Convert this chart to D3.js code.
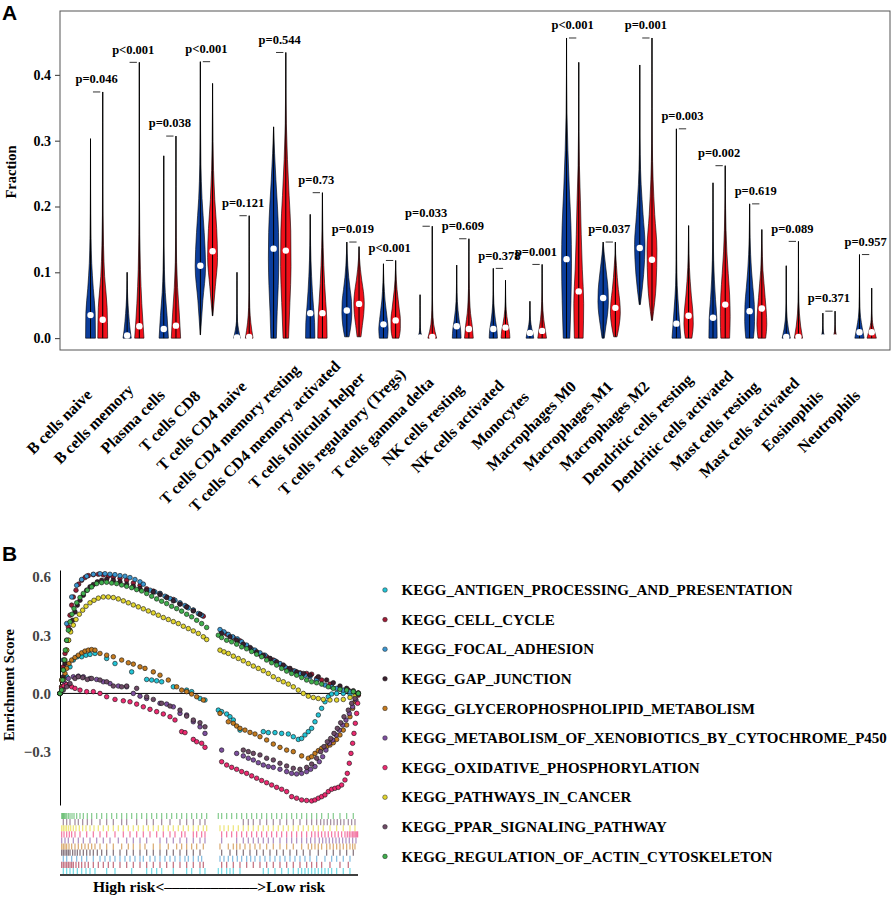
<!DOCTYPE html>
<html><head><meta charset="utf-8">
<script src="https://cdn.jsdelivr.net/npm/d3@7"></script>
<style>body{margin:0;background:#fff}svg{display:block}</style>
</head><body>
<svg id="c" width="892" height="897"></svg>
<script>
// ---------- Panel A data ----------
const categories = ["B cells naive","B cells memory","Plasma cells","T cells CD8","T cells CD4 naive",
 "T cells CD4 memory resting","T cells CD4 memory activated","T cells follicular helper",
 "T cells regulatory (Tregs)","T cells gamma delta","NK cells resting","NK cells activated","Monocytes",
 "Macrophages M0","Macrophages M1","Macrophages M2","Dendritic cells resting","Dendritic cells activated",
 "Mast cells resting","Mast cells activated","Eosinophils","Neutrophils"];
const pLabels = ["p=0.046","p<0.001","p=0.038","p<0.001","p=0.121","p=0.544","p=0.73","p=0.019","p<0.001",
 "p=0.033","p=0.609","p=0.378","p=0.001","p<0.001","p=0.037","p=0.001","p=0.003","p=0.002","p=0.619",
 "p=0.089","p=0.371","p=0.957"];
const blueMin = [0,0,0,0.005,0,0,0,0.002,0,0,0,0,0,0,0,0.051,0,0,0,0,0,0];
const blueMax = [0.303,0.100,0.277,0.420,0.100,0.321,0.188,0.146,0.113,0.066,0.111,0.106,0.056,0.456,0.146,0.415,0.318,0.236,0.204,0.110,0.038,0.127];
const blueMed = [0.035,0.004,0.014,0.110,0.001,0.136,0.038,0.042,0.021,0.001,0.018,0.014,0.008,0.120,0.061,0.137,0.022,0.031,0.041,0.002,0.001,0.009];
const redMin = [0,0,0,0.034,0,0,0,0.002,0,0,0,0,0,0,0.002,0.027,0,0,0,0,0,0];
const redMax = [0.374,0.419,0.307,0.387,0.186,0.434,0.221,0.139,0.118,0.170,0.151,0.088,0.112,0.419,0.146,0.456,0.171,0.262,0.165,0.147,0.041,0.076];
const redMed = [0.028,0.018,0.019,0.132,0.002,0.133,0.038,0.052,0.027,0.002,0.014,0.016,0.011,0.071,0.046,0.119,0.034,0.051,0.045,0.002,0.001,0.009];
// relative density at 9 evenly spaced levels from min to max
const blueDens = [
 [0.9,0.85,0.5,0.22,0.1,0.05,0.02,0.01,0],
 [0.75,0.55,0.4,0.28,0.18,0.1,0.05,0.02,0],
 [0.85,0.6,0.28,0.12,0.05,0.02,0.01,0.005,0],
 [0.02,0.45,0.95,0.7,0.3,0.1,0.04,0.015,0],
 [0.6,0.3,0.1,0.04,0.02,0.01,0.005,0.002,0],
 [0.5,0.65,0.85,0.95,0.9,0.7,0.42,0.18,0],
 [0.85,0.8,0.6,0.4,0.25,0.14,0.07,0.03,0],
 [0.4,0.75,0.9,0.85,0.6,0.35,0.18,0.07,0],
 [0.75,0.85,0.7,0.5,0.3,0.18,0.09,0.03,0],
 [0.5,0.15,0.05,0.02,0.01,0.005,0.003,0.001,0],
 [0.8,0.7,0.45,0.25,0.12,0.06,0.03,0.01,0],
 [0.75,0.65,0.4,0.22,0.1,0.05,0.02,0.01,0],
 [0.7,0.55,0.35,0.2,0.1,0.05,0.02,0.01,0],
 [0.6,0.8,0.9,0.8,0.5,0.25,0.08,0.02,0],
 [0.2,0.5,0.8,0.95,0.9,0.7,0.45,0.2,0],
 [0.1,0.7,0.95,0.6,0.25,0.08,0.03,0.01,0],
 [0.8,0.45,0.15,0.06,0.03,0.015,0.008,0.004,0],
 [0.75,0.7,0.45,0.25,0.12,0.06,0.03,0.01,0],
 [0.7,0.9,0.85,0.6,0.35,0.18,0.08,0.03,0],
 [0.75,0.4,0.18,0.08,0.04,0.02,0.01,0.005,0],
 [0.45,0.22,0.1,0.05,0.02,0.01,0.005,0.002,0],
 [0.85,0.5,0.2,0.08,0.04,0.02,0.01,0.005,0]];
const redDens = [
 [0.9,0.8,0.35,0.15,0.06,0.03,0.015,0.008,0],
 [0.85,0.45,0.2,0.08,0.03,0.015,0.008,0.004,0],
 [0.85,0.6,0.3,0.12,0.05,0.02,0.01,0.005,0],
 [0.05,0.5,0.9,0.75,0.4,0.18,0.08,0.03,0],
 [0.7,0.3,0.1,0.04,0.02,0.01,0.005,0.002,0],
 [0.5,0.75,0.95,0.9,0.6,0.3,0.1,0.03,0],
 [0.85,0.8,0.6,0.4,0.25,0.14,0.07,0.03,0],
 [0.35,0.6,0.85,0.95,0.8,0.5,0.25,0.08,0],
 [0.6,0.85,0.85,0.65,0.45,0.25,0.12,0.04,0],
 [0.8,0.25,0.08,0.03,0.015,0.008,0.004,0.002,0],
 [0.8,0.6,0.3,0.15,0.07,0.03,0.015,0.005,0],
 [0.8,0.7,0.45,0.25,0.12,0.06,0.03,0.01,0],
 [0.8,0.55,0.3,0.15,0.07,0.03,0.015,0.005,0],
 [0.8,0.9,0.65,0.45,0.3,0.12,0.04,0.01,0],
 [0.3,0.7,0.9,0.8,0.55,0.35,0.2,0.05,0],
 [0.08,0.75,0.9,0.5,0.2,0.06,0.02,0.01,0],
 [0.6,0.85,0.75,0.5,0.3,0.15,0.07,0.03,0],
 [0.8,0.9,0.8,0.55,0.3,0.15,0.07,0.02,0],
 [0.7,0.9,0.8,0.6,0.4,0.2,0.1,0.04,0],
 [0.75,0.4,0.18,0.08,0.04,0.02,0.01,0.005,0],
 [0.45,0.22,0.1,0.05,0.02,0.01,0.005,0.002,0],
 [0.85,0.55,0.25,0.1,0.05,0.025,0.01,0.005,0]];
const yTicksA = [0,0.1,0.2,0.3,0.4];

// ---------- Panel B data ----------
const geneSets = ["KEGG_ANTIGEN_PROCESSING_AND_PRESENTATION","KEGG_CELL_CYCLE","KEGG_FOCAL_ADHESION",
 "KEGG_GAP_JUNCTION","KEGG_GLYCEROPHOSPHOLIPID_METABOLISM","KEGG_METABOLISM_OF_XENOBIOTICS_BY_CYTOCHROME_P450",
 "KEGG_OXIDATIVE_PHOSPHORYLATION","KEGG_PATHWAYS_IN_CANCER","KEGG_PPAR_SIGNALING_PATHWAY",
 "KEGG_REGULATION_OF_ACTIN_CYTOSKELETON"];
const rankLength = 895;
// running enrichment score at each hit: [rank position, ES]
const esAntigen = [[0,0],[10,0.034],[20,0.086],[30,0.137],[40,0.172],[52,0.189],[65,0.189],[78,0.197],[90,0.201],[105,0.206],[140,0.180],[165,0.154],[215,0.111],[260,0.072],[275,0.069],[290,0.065],[305,0.060],[340,0.034],[380,0.017],[395,0.009],[420,-0.026],[435,-0.034],[475,-0.086],[485,-0.094],[500,-0.106],[510,-0.120],[520,-0.137],[540,-0.189],[610,-0.197],[625,-0.202],[645,-0.202],[665,-0.206],[685,-0.209],[700,-0.223],[715,-0.237],[725,-0.232],[735,-0.214],[745,-0.197],[755,-0.180],[765,-0.146],[775,-0.111],[785,-0.077],[795,-0.043],[805,-0.017],[815,-0.003],[830,0],[850,0],[870,-0.003],[895,-0.003]];
const esCellCycle = [[0,0],[5,0.069],[10,0.137],[15,0.206],[20,0.274],[25,0.343],[30,0.403],[35,0.455],[40,0.497],[48,0.532],[56,0.563],[65,0.583],[75,0.597],[85,0.607],[100,0.612],[115,0.614],[130,0.611],[145,0.604],[160,0.600],[180,0.593],[200,0.583],[220,0.569],[240,0.556],[260,0.539],[280,0.527],[300,0.515],[320,0.497],[340,0.484],[360,0.463],[380,0.446],[400,0.429],[420,0.408],[430,0.398],[485,0.317],[500,0.305],[520,0.288],[540,0.271],[560,0.244],[580,0.223],[600,0.202],[620,0.189],[640,0.172],[660,0.151],[680,0.129],[700,0.117],[720,0.106],[740,0.103],[755,0.099],[770,0.077],[785,0.069],[810,0.048],[840,0.026],[865,0.017],[895,0.003]];
const esFocal = [[0,0],[10,0.172],[20,0.360],[35,0.497],[50,0.557],[65,0.587],[80,0.604],[100,0.614],[120,0.617],[135,0.617],[150,0.614],[165,0.612],[180,0.607],[195,0.604],[210,0.597],[225,0.587],[240,0.575],[250,0.563],[270,0.532],[285,0.523],[300,0.515],[315,0.501],[330,0.489],[345,0.480],[360,0.467],[375,0.453],[385,0.441],[400,0.429],[415,0.412],[425,0.403],[480,0.329],[492,0.317],[505,0.304],[518,0.292],[532,0.281],[545,0.266],[560,0.249],[572,0.232],[585,0.223],[600,0.209],[615,0.197],[630,0.180],[645,0.168],[660,0.154],[675,0.137],[690,0.123],[705,0.115],[720,0.103],[735,0.094],[750,0.086],[770,0.069],[795,0.043],[815,0.034],[830,0.026],[850,0.017],[870,0.009],[895,0]];
const esGap = [[0,0],[5,0.034],[10,0.086],[15,0.154],[20,0.223],[25,0.274],[30,0.326],[38,0.377],[45,0.420],[52,0.455],[60,0.480],[70,0.506],[80,0.532],[90,0.549],[100,0.561],[112,0.575],[125,0.583],[140,0.588],[160,0.583],[180,0.575],[200,0.563],[220,0.552],[240,0.540],[260,0.532],[280,0.523],[300,0.509],[320,0.494],[340,0.477],[360,0.460],[380,0.446],[400,0.425],[420,0.408],[485,0.309],[510,0.292],[530,0.274],[550,0.254],[570,0.237],[590,0.214],[610,0.197],[630,0.180],[650,0.163],[670,0.146],[690,0.129],[710,0.111],[730,0.103],[750,0.094],[775,0.086],[800,0.069],[820,0.055],[840,0.038],[860,0.026],[880,0.014],[895,0]];
const esGlycero = [[0,0],[5,0.034],[10,0.069],[15,0.103],[20,0.129],[27,0.154],[35,0.172],[45,0.185],[55,0.197],[65,0.209],[75,0.218],[85,0.223],[95,0.226],[105,0.223],[120,0.206],[140,0.197],[160,0.189],[185,0.172],[205,0.158],[220,0.151],[240,0.137],[255,0.129],[280,0.111],[300,0.094],[325,0.069],[350,0.034],[365,0.017],[380,0.009],[395,-0.003],[410,-0.017],[430,-0.034],[480,-0.103],[505,-0.146],[520,-0.154],[530,-0.168],[540,-0.180],[555,-0.189],[570,-0.201],[585,-0.209],[600,-0.223],[620,-0.240],[640,-0.261],[660,-0.278],[680,-0.292],[700,-0.300],[725,-0.322],[745,-0.334],[755,-0.326],[765,-0.309],[775,-0.295],[785,-0.283],[800,-0.274],[810,-0.266],[820,-0.254],[830,-0.237],[840,-0.214],[850,-0.189],[860,-0.163],[870,-0.120],[878,-0.077],[885,-0.043],[895,-0.003]];
const esXeno = [[0,0],[5,0.017],[15,0.051],[25,0.077],[40,0.086],[55,0.089],[70,0.086],[90,0.077],[110,0.072],[130,0.060],[150,0.051],[175,0.038],[200,0.034],[220,0],[240,-0.014],[260,-0.026],[300,-0.051],[320,-0.055],[340,-0.069],[360,-0.103],[380,-0.111],[400,-0.146],[420,-0.172],[435,-0.206],[485,-0.292],[530,-0.309],[550,-0.322],[565,-0.334],[580,-0.343],[595,-0.357],[610,-0.369],[625,-0.377],[640,-0.381],[660,-0.391],[680,-0.403],[695,-0.412],[710,-0.415],[725,-0.412],[740,-0.403],[752,-0.391],[765,-0.377],[778,-0.352],[788,-0.326],[798,-0.292],[808,-0.257],[818,-0.240],[828,-0.214],[838,-0.189],[848,-0.163],[858,-0.137],[868,-0.103],[878,-0.069],[888,-0.034],[895,-0.003]];
const esOxid = [[0,0],[5,0.026],[12,0.039],[20,0.046],[28,0.043],[35,0.034],[45,0.026],[60,0.017],[80,0.009],[100,0.009],[120,0],[140,-0.017],[165,-0.031],[190,-0.038],[210,-0.043],[230,-0.055],[250,-0.069],[270,-0.082],[290,-0.094],[310,-0.106],[330,-0.120],[345,-0.137],[365,-0.197],[375,-0.202],[400,-0.237],[410,-0.249],[425,-0.257],[435,-0.278],[485,-0.352],[500,-0.369],[515,-0.381],[530,-0.391],[545,-0.403],[560,-0.412],[575,-0.425],[590,-0.437],[605,-0.449],[620,-0.460],[635,-0.472],[650,-0.484],[665,-0.494],[680,-0.506],[695,-0.532],[710,-0.540],[725,-0.549],[740,-0.552],[755,-0.554],[765,-0.549],[775,-0.540],[785,-0.532],[795,-0.523],[805,-0.506],[815,-0.494],[825,-0.489],[835,-0.484],[845,-0.472],[855,-0.446],[862,-0.412],[868,-0.360],[873,-0.309],[878,-0.257],[882,-0.206],[886,-0.154],[890,-0.103],[893,-0.051],[895,-0.009]];
const esCancer = [[0,0],[5,0.069],[10,0.120],[15,0.172],[20,0.223],[26,0.274],[32,0.317],[40,0.352],[48,0.381],[58,0.408],[68,0.429],[78,0.449],[90,0.467],[102,0.480],[115,0.491],[130,0.497],[145,0.497],[160,0.494],[175,0.487],[190,0.477],[205,0.467],[220,0.456],[235,0.446],[250,0.436],[265,0.425],[280,0.415],[295,0.403],[310,0.391],[325,0.381],[340,0.370],[355,0.360],[370,0.346],[385,0.334],[400,0.322],[415,0.309],[430,0.292],[440,0.278],[480,0.223],[492,0.214],[505,0.206],[520,0.192],[535,0.180],[550,0.168],[565,0.154],[580,0.141],[595,0.129],[610,0.117],[625,0.103],[640,0.086],[655,0.072],[670,0.060],[685,0.048],[700,0.034],[715,0.017],[730,0],[745,-0.014],[760,-0.021],[775,-0.026],[790,-0.031],[810,-0.034],[830,-0.034],[850,-0.031],[870,-0.021],[885,-0.014],[895,-0.003]];
const esPpar = [[0,0],[10,0.017],[20,0.034],[30,0.051],[45,0.077],[55,0.086],[68,0.081],[82,0.072],[95,0.077],[120,0.069],[140,0.060],[160,0.038],[185,0.034],[200,0.038],[230,0.026],[260,-0.017],[280,-0.031],[305,-0.051],[330,-0.065],[360,-0.086],[380,-0.117],[400,-0.137],[420,-0.151],[435,-0.172],[550,-0.292],[565,-0.300],[580,-0.309],[600,-0.317],[620,-0.334],[640,-0.343],[660,-0.360],[680,-0.374],[700,-0.386],[720,-0.391],[740,-0.381],[755,-0.364],[770,-0.334],[782,-0.300],[792,-0.274],[802,-0.249],[812,-0.232],[822,-0.206],[832,-0.180],[842,-0.151],[852,-0.120],[865,-0.086],[875,-0.051],[885,-0.026],[895,-0.003]];
const esActin = [[0,0],[5,0.017],[8,0.069],[10,0.120],[13,0.172],[16,0.223],[20,0.274],[25,0.326],[30,0.369],[36,0.408],[42,0.437],[50,0.467],[60,0.494],[70,0.515],[82,0.532],[95,0.549],[110,0.566],[125,0.571],[140,0.573],[155,0.569],[170,0.566],[185,0.559],[200,0.552],[215,0.545],[230,0.535],[245,0.528],[260,0.515],[275,0.501],[290,0.487],[305,0.475],[320,0.463],[335,0.449],[350,0.437],[365,0.424],[380,0.408],[395,0.395],[410,0.377],[425,0.360],[440,0.340],[475,0.300],[485,0.288],[500,0.274],[515,0.266],[530,0.254],[545,0.240],[560,0.230],[575,0.216],[590,0.202],[605,0.189],[620,0.172],[635,0.158],[650,0.146],[665,0.129],[680,0.115],[695,0.103],[710,0.094],[725,0.082],[740,0.069],[755,0.060],[770,0.055],[785,0.048],[805,0.034],[820,0.026],[840,0.021],[860,0.017],[880,0.009],[895,0]];
const esCurves = [esAntigen,esCellCycle,esFocal,esGap,esGlycero,esXeno,esOxid,esCancer,esPpar,esActin];
const yTicksB = [-0.3,0,0.3,0.6];

// ---------- styles ----------
const setColors = ["#22c4d6","#9e1b36","#3a95cf","#3a1f2e","#c47a1e","#7d4f9e","#ec2a70","#e2d52c","#6e4a66","#3fae4c"];
const serif = '"Liberation Serif","Times New Roman",serif';
const sans = '"Liberation Sans",Arial,sans-serif';
const svg = d3.select("#c");

// ================= Panel A =================
const xA = d3.scaleLinear().domain([-1.5,66.5]).range([60,890]);
const yA = d3.scaleLinear().domain([-0.018,0.497]).range([350,11]);
const gA = svg.append("g");

const yAxA = gA.append("g").attr("transform","translate(60,0)")
  .call(d3.axisLeft(yA).tickValues(yTicksA).tickFormat(d3.format(".1f")).tickSize(5).tickSizeOuter(0));
yAxA.select(".domain").remove();
yAxA.selectAll("text").attr("font-family",serif).attr("font-weight","bold").attr("font-size",14).attr("fill","#000").attr("dx","-1");
yAxA.selectAll("line").attr("stroke","#333");

const violin = (pos, lo, hi, dens, color) => {
  const n = dens.length - 1;
  const pts = dens.map((d,i) => ({v: lo + (hi-lo)*i/n, w: d*0.45})).reverse();
  const area = d3.area().curve(d3.curveMonotoneY)
     .y(d => yA(d.v)).x0(d => xA(pos - d.w)).x1(d => xA(pos + d.w));
  gA.append("path").attr("d", area(pts)).attr("fill", color).attr("stroke","#000").attr("stroke-width",0.6);
  gA.append("line").attr("x1",xA(pos)).attr("x2",xA(pos)).attr("y1",yA(lo)).attr("y2",yA(hi))
    .attr("stroke","#000").attr("stroke-width",1);
};
categories.forEach((c,i) => {
  const pb = 3*i+1, pr = 3*i+2;
  violin(pb, blueMin[i], blueMax[i], blueDens[i], "#0b3d9c");
  violin(pr, redMin[i], redMax[i], redDens[i], "#f0101a");
  gA.append("circle").attr("cx",xA(pb)).attr("cy",yA(blueMed[i])).attr("r",3.2).attr("fill","#fff");
  gA.append("circle").attr("cx",xA(pr)).attr("cy",yA(redMed[i])).attr("r",3.2).attr("fill","#fff");
  const mx = Math.max(blueMax[i], redMax[i]);
  gA.append("line").attr("x1",xA(pb+0.2)).attr("x2",xA(pb+0.8)).attr("y1",yA(mx)).attr("y2",yA(mx))
    .attr("stroke","#333").attr("stroke-width",1);
  gA.append("text").attr("x",xA(pb+0.5)).attr("y",yA(mx+0.02)).attr("dy","0.35em")
    .attr("text-anchor","middle").attr("font-family",serif).attr("font-weight","bold").attr("font-size",12.5)
    .text(pLabels[i]);
  // rotated category label, partially centred on its anchor
  const t = gA.append("text").attr("text-anchor","end")
    .attr("font-family",serif).attr("font-weight","bold").attr("font-size",16).text(c);
  const L = t.node().getComputedTextLength();
  const k = 0.235 * L;
  t.attr("transform",`translate(${xA(pb+0.5) - 23.5 + k},${415.5 - k}) rotate(-45)`);
});
gA.append("rect").attr("x",60).attr("y",11).attr("width",830).attr("height",339)
  .attr("fill","none").attr("stroke","#555").attr("stroke-width",1);
gA.append("text").attr("transform","translate(16,172) rotate(-90)").attr("text-anchor","middle")
  .attr("font-family",serif).attr("font-weight","bold").attr("font-size",14.5).text("Fraction");
svg.append("text").attr("x",2).attr("y",20).attr("font-family",sans).attr("font-weight","bold").attr("font-size",21).text("A");

// ================= Panel B =================
const xB = d3.scaleLinear().domain([0,rankLength]).range([60,358.3]);
const yB = d3.scaleLinear().domain([-0.575,0.636]).range([805,570]);
const gB = svg.append("g");
const yAxB = gB.append("g").attr("transform","translate(60,0)")
  .call(d3.axisLeft(yB).tickValues(yTicksB).tickFormat(d3.format(".1f")).tickSize(0).tickSizeOuter(0));
yAxB.select(".domain").attr("stroke","#000").attr("stroke-width",1);
yAxB.selectAll("text").attr("font-family",serif).attr("font-weight","bold").attr("font-size",15).attr("fill","#444").attr("dx","-6");
gB.append("line").attr("x1",xB(0)).attr("x2",xB(rankLength)).attr("y1",yB(0)).attr("y2",yB(0)).attr("stroke","#000").attr("stroke-width",1);
esCurves.forEach((pts,k) => {
  gB.append("g").selectAll("circle").data(pts).join("circle")
    .attr("cx",d=>xB(d[0])).attr("cy",d=>yB(d[1])).attr("r",2.3)
    .attr("fill",setColors[k]).attr("stroke","#111").attr("stroke-width",0.6);
});
// rug rows (top to bottom: reverse legend order)
const rugTop = 813, rowH = 6.1;
esCurves.forEach((pts,k) => {
  const row = 9 - k;
  const y0 = rugTop + row*rowH;
  gB.append("g").selectAll("line").data(pts.slice(1,-1)).join("line")
    .attr("x1",d=>xB(d[0])).attr("x2",d=>xB(d[0])).attr("y1",y0).attr("y2",y0+rowH)
    .attr("stroke",setColors[k]).attr("stroke-opacity",0.6).attr("stroke-width",1.3);
});
gB.append("line").attr("x1",60).attr("x2",358).attr("y1",875).attr("y2",875).attr("stroke","#000").attr("stroke-width",1.5);
gB.append("text").attr("x",209).attr("y",892).attr("text-anchor","middle").attr("font-family",serif)
  .attr("font-weight","bold").attr("font-size",15.5).text("High risk<\u2013\u2013\u2013\u2013\u2013\u2013\u2013\u2013\u2013\u2013\u2013\u2013>Low risk");
gB.append("text").attr("transform","translate(14,685) rotate(-90)").attr("text-anchor","middle")
  .attr("font-family",serif).attr("font-weight","bold").attr("font-size",14.5).text("Enrichment Score");
svg.append("text").attr("x",2).attr("y",561).attr("font-family",sans).attr("font-weight","bold").attr("font-size",21).text("B");

// legend
const lg = svg.append("g");
geneSets.forEach((s,k) => {
  const y = 590 + k*29.6;
  lg.append("circle").attr("cx",385).attr("cy",y).attr("r",2.3).attr("fill",setColors[k]).attr("stroke","#222").attr("stroke-width",0.5);
  lg.append("text").attr("x",401.5).attr("y",y).attr("dy","0.35em").attr("font-family",serif)
    .attr("font-weight","bold").attr("font-size",15).text(s);
});
</script>
</body></html>
